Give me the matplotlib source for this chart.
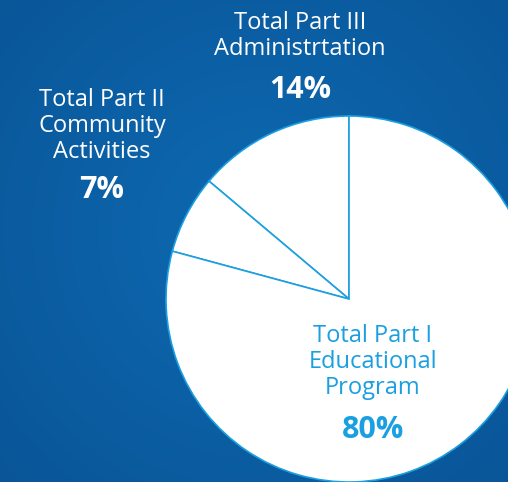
import matplotlib.pyplot as plt
import numpy as np

# slice values, counter-clockwise from 12 o'clock
labels = ["Total Part III\nAdministrtation", "Total Part II\nCommunity\nActivities",
          "Total Part I\nEducational\nProgram"]
values = [14, 7, 80]
pct_labels = ["14%", "7%", "80%"]

W, H = 508, 482
fig = plt.figure(figsize=(W / 100, H / 100), dpi=100)
ax = fig.add_axes([0, 0, 1, 1])

# blue background with a soft radial gradient
yy, xx = np.mgrid[0:H, 0:W]
d = np.sqrt((xx - 260) ** 2 + (yy - 230) ** 2) / 380
c0 = np.array([0x0e, 0x6a, 0xb2]) / 255
c1 = np.array([0x09, 0x54, 0x96]) / 255
d = np.clip(d, 0, 1)[..., None]
bg = c0 * (1 - d) + c1 * d
ax.imshow(bg, extent=[0, W, 0, H], origin="upper", zorder=0)

edge = "#1c9fe0"
ax.pie(values, center=(349, H - 299), radius=183, startangle=90, counterclock=True,
       colors=["white"] * 3, wedgeprops=dict(edgecolor=edge, linewidth=1.2),
       frame=True)
ax.set_xlim(0, W)
ax.set_ylim(0, H)
ax.set_aspect("equal")
ax.axis("off")

font = "Open Sans"
# label positions (px from top)
spots = [(300, 36, 90, "white"), (102, 126, 190, "white"), (373, 362, 430, "#1a9fe0")]
for lab, pct, (x, ytxt, ypct, col) in zip(labels, pct_labels, spots):
    ax.text(x, H - ytxt, lab, ha="center", va="center", fontsize=17,
            family=font, color=col, linespacing=1.12)
    ax.text(x, H - ypct, pct, ha="center", va="center", fontsize=22,
            family=font, fontweight="bold", color=col)

fig.savefig("out.png", dpi=100)
